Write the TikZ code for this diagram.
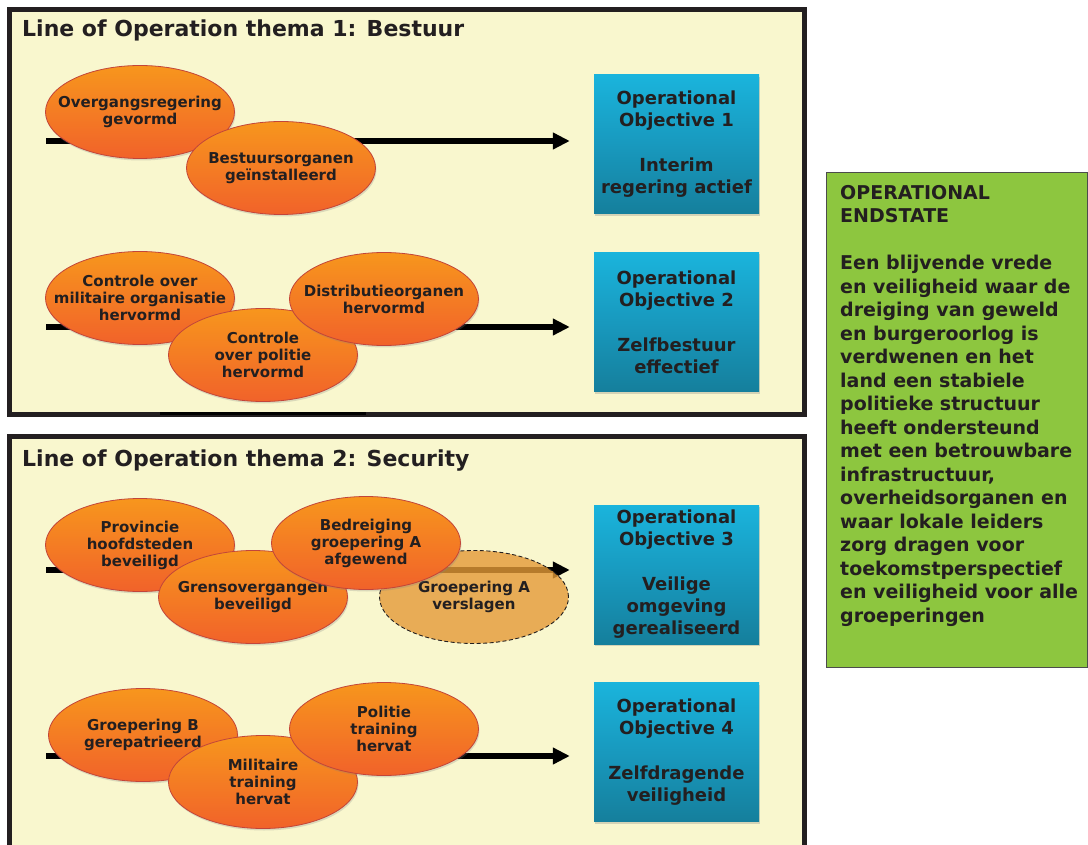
\documentclass[tikz,border=0pt]{standalone}
\usepackage{fontspec}
\setmainfont{DejaVu Sans}
\usetikzlibrary{arrows.meta,shapes.geometric,shadows}
\definecolor{paneelgeel}{HTML}{F9F7CE}
\definecolor{rand}{HTML}{231F20}
\definecolor{tekst}{HTML}{231F20}
\definecolor{oranjeboven}{HTML}{F7961D}
\definecolor{oranjeonder}{HTML}{F1622A}
\definecolor{oranjelicht}{HTML}{E49A38}
\definecolor{ovaalrand}{HTML}{C2453A}
\definecolor{blauwboven}{HTML}{1AB4DC}
\definecolor{blauwmidden}{HTML}{1899BE}
\definecolor{blauwonder}{HTML}{157F9C}
\definecolor{eindgroen}{HTML}{8DC63F}

\begin{document}
\begin{tikzpicture}[x=1pt,y=-1pt,
paneel/.style={draw=rand,line width=5pt,fill=paneelgeel},
titel/.style={anchor=west,inner sep=0pt,text=tekst,font=\fontsize{22}{26}\selectfont\bfseries},
gebeurtenis/.style={ellipse,draw=ovaalrand,line width=0.8pt,top color=oranjeboven,bottom color=oranjeonder,
  minimum width=189pt,minimum height=93pt,inner xsep=-20pt,inner ysep=0pt,align=center,text=tekst,
  font=\fontsize{15}{17}\selectfont\bfseries,drop shadow={shadow xshift=1pt,shadow yshift=-2pt,opacity=0.25}},
gepland/.style={ellipse,draw=tekst,dash pattern=on 4pt off 2.5pt,line width=0.9pt,fill=oranjelicht,fill opacity=0.8,text opacity=1,
  minimum width=189pt,minimum height=93pt,inner xsep=-20pt,inner ysep=0pt,align=center,text=tekst,
  font=\fontsize{15}{17}\selectfont\bfseries},
doel/.style={rectangle,top color=blauwboven,bottom color=blauwonder,middle color=blauwmidden,
  minimum width=165pt,minimum height=139pt,inner sep=0pt,align=center,text=tekst,
  font=\fontsize{18}{22}\selectfont\bfseries,drop shadow={shadow xshift=1pt,shadow yshift=-2pt,opacity=0.3}},
pijl/.style={line width=5.5pt,draw=black,-{Triangle[length=17pt,width=16pt]},shorten >=24pt},
eindbox/.style={rectangle,draw=black!70,line width=1.2pt,fill=eindgroen,minimum width=261pt,minimum height=495pt},
eindtekst/.style={inner sep=0pt,align=left,text=tekst,font=\fontsize{19}{23.5}\selectfont\bfseries}]
\useasboundingbox (0,0) rectangle (1088,845);

% panelen
\draw[paneel] (9.5,9.5) rectangle (804.5,414.5);
\draw[line width=3pt,black] (160,413) -- (366,413);
\draw[paneel] (9.5,436.5) rectangle (804.5,870);
\node[titel] (titel1) at (22,30) {Line of Operation thema 1: Bestuur};
\node[titel] (titel2) at (22,461) {Line of Operation thema 2: Security};

% operational objectives
\node[doel] (doel1) at (676.5,144.5) {Operational\\Objective 1\\[23pt]Interim\\regering actief};
\node[doel] (doel2) at (676.5,322) {Operational\\Objective 2\\[23pt]Zelfbestuur\\effectief};
\node[doel] (doel3) at (676.5,574.5) {Operational\\Objective 3\\[23pt]Veilige\\omgeving\\gerealiseerd};
\node[doel] (doel4) at (676.5,752) {Operational\\Objective 4\\[23pt]Zelfdragende\\veiligheid};

% lijnen
\coordinate (start1) at (46,141);
\coordinate (start2) at (46,327);
\coordinate (start3) at (46,570);
\coordinate (start4) at (46,756);
\draw[pijl] (start1) -- (start1 -| doel1.west);
\draw[pijl] (start2) -- (start2 -| doel2.west);
\draw[pijl] (start4) -- (start4 -| doel4.west);
\draw[pijl] (start3) -- (start3 -| doel3.west);

% thema 1
\node[gebeurtenis] (overgang) at (140,112) {Overgangsregering\\gevormd};
\node[gebeurtenis] (bestuur) at (281,168) {Bestuursorganen\\geïnstalleerd};
\node[gebeurtenis] (ctrlmil) at (140,298) {Controle over\\militaire organisatie\\hervormd};
\node[gebeurtenis] (ctrlpol) at (263,355) {Controle\\over politie\\hervormd};
\node[gebeurtenis] (distributie) at (384,299) {Distributieorganen\\hervormd};

% thema 2
\node[gepland] (groepA) at (474,597) {Groepering A\\verslagen};
\node[gebeurtenis] (provincie) at (140,545) {Provincie\\hoofdsteden\\beveiligd};
\node[gebeurtenis] (grens) at (253,597) {Grensovergangen\\beveiligd};
\node[gebeurtenis] (bedreiging) at (366,543) {Bedreiging\\groepering A\\afgewend};
\node[gebeurtenis] (groepB) at (143,735) {Groepering B\\gerepatrieerd};
\node[gebeurtenis] (miltraining) at (263,782) {Militaire\\training\\hervat};
\node[gebeurtenis] (poltraining) at (384,729) {Politie\\training\\hervat};

% endstate
\node[eindbox,anchor=north west] (eind) at (826,172) {};
\node[eindtekst,anchor=north west] (endstate) at (840,185) {OPERATIONAL\\ENDSTATE\\[23.5pt]Een blijvende vrede\\en veiligheid waar de\\dreiging van geweld\\en burgeroorlog is\\verdwenen en het\\land een stabiele\\politieke structuur\\heeft ondersteund\\met een betrouwbare\\infrastructuur,\\overheidsorganen en\\waar lokale leiders\\zorg dragen voor\\toekomstperspectief\\en veiligheid voor alle\\groeperingen};
\end{tikzpicture}
\end{document}
